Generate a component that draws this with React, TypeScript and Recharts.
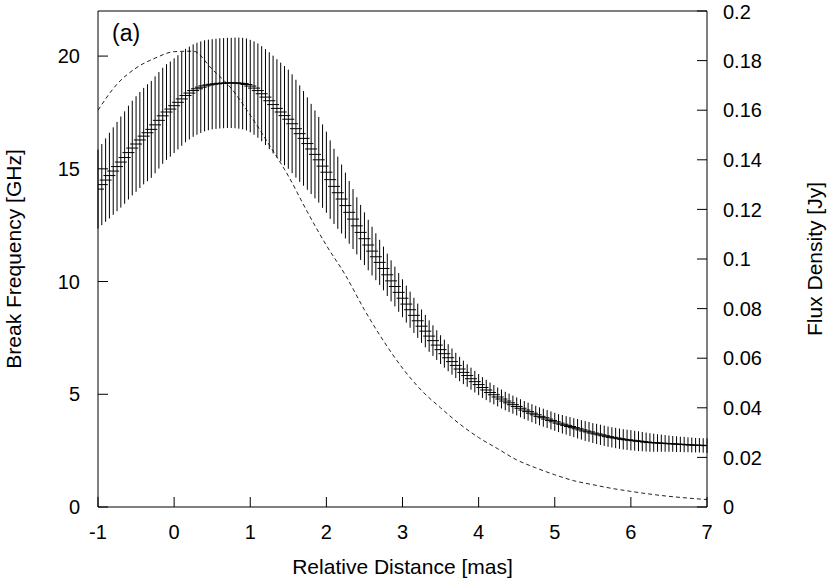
import { ComposedChart, ErrorBar, Line, Scatter, XAxis, YAxis } from "recharts";

const FONT = "'Liberation Sans', Arial, sans-serif";

// break frequency [GHz], sampled every 0.05 mas from -1 to 7
const breakFreq = [
  14.1, 14.3, 14.5, 14.7, 14.9, 15.1, 15.3, 15.5, 15.72, 15.92,
  16.1, 16.28, 16.45, 16.6, 16.75, 16.95, 17.15, 17.35, 17.52, 17.65,
  17.8, 17.95, 18.1, 18.25, 18.36, 18.47, 18.55, 18.62, 18.68, 18.72,
  18.75, 18.77, 18.79, 18.8, 18.81, 18.81, 18.81, 18.8, 18.78, 18.74,
  18.67, 18.58, 18.47, 18.33, 18.18, 18.02, 17.85, 17.68, 17.52, 17.36,
  17.2, 17.0, 16.78, 16.56, 16.35, 16.12, 15.88, 15.64, 15.4, 15.12,
  14.85, 14.52, 14.22, 13.94, 13.66, 13.37, 13.07, 12.77, 12.47, 12.18,
  11.9, 11.62, 11.35, 11.1, 10.85, 10.58, 10.3, 10.03, 9.78, 9.52,
  9.26, 9.0, 8.75, 8.5, 8.26, 8.02, 7.8, 7.58, 7.38, 7.18,
  6.98, 6.8, 6.62, 6.45, 6.28, 6.12, 5.97, 5.83, 5.69, 5.56,
  5.43, 5.3, 5.19, 5.08, 4.98, 4.88, 4.79, 4.7, 4.62, 4.54,
  4.46, 4.38, 4.3, 4.23, 4.16, 4.09, 4.02, 3.96, 3.9, 3.84,
  3.78, 3.72, 3.67, 3.62, 3.57, 3.52, 3.47, 3.42, 3.37, 3.33,
  3.28, 3.24, 3.2, 3.16, 3.12, 3.09, 3.06, 3.03, 3.0, 2.98,
  2.96, 2.94, 2.92, 2.9, 2.88, 2.86, 2.85, 2.84, 2.83, 2.82,
  2.81, 2.8, 2.79, 2.78, 2.77, 2.76, 2.75, 2.74, 2.74, 2.73,
  2.72,
];

// half-length of the error bars [GHz]
const breakErr = [
  1.75, 1.8, 1.85, 1.9, 1.94, 1.98, 2.02, 2.05, 2.08, 2.1,
  2.12, 2.13, 2.14, 2.15, 2.15, 2.15, 2.14, 2.13, 2.12, 2.11,
  2.1, 2.09, 2.08, 2.07, 2.06, 2.05, 2.04, 2.03, 2.02, 2.01,
  2.0, 2.0, 2.0, 2.0, 2.0, 2.0, 2.01, 2.02, 2.03, 2.04,
  2.05, 2.07, 2.09, 2.11, 2.13, 2.15, 2.17, 2.18, 2.19, 2.2,
  2.2, 2.19, 2.17, 2.14, 2.1, 2.05, 2.0, 1.95, 1.9, 1.85,
  1.8, 1.74, 1.67, 1.6, 1.53, 1.46, 1.39, 1.33, 1.27, 1.22,
  1.17, 1.12, 1.08, 1.04, 1.0, 0.97, 0.94, 0.91, 0.88, 0.86,
  0.84, 0.82, 0.8, 0.78, 0.76, 0.74, 0.72, 0.7, 0.68, 0.66,
  0.64, 0.62, 0.6, 0.58, 0.56, 0.54, 0.52, 0.5, 0.49, 0.48,
  0.47, 0.46, 0.45, 0.44, 0.43, 0.42, 0.42, 0.41, 0.41, 0.4,
  0.4, 0.4, 0.4, 0.4, 0.4, 0.4, 0.4, 0.4, 0.4, 0.4,
  0.4, 0.4, 0.41, 0.41, 0.42, 0.42, 0.43, 0.43, 0.44, 0.44,
  0.44, 0.45, 0.45, 0.45, 0.45, 0.45, 0.45, 0.45, 0.45, 0.45,
  0.45, 0.44, 0.44, 0.43, 0.42, 0.41, 0.4, 0.39, 0.38, 0.37,
  0.36, 0.35, 0.35, 0.34, 0.34, 0.33, 0.33, 0.32, 0.32, 0.32,
  0.32,
];

const fluxDistance = [
  -1, -0.75, -0.5, -0.25, 0, 0.25, 0.5, 0.75, 1, 1.25, 1.5, 1.75, 2, 2.25, 2.5, 2.75,
  3, 3.25, 3.5, 3.75, 4, 4.25, 4.5, 4.75, 5, 5.25, 5.5, 5.75, 6, 6.25, 6.5, 6.75, 7,
];
const fluxDensity = [
  0.16, 0.1705, 0.177, 0.181, 0.1836, 0.1838, 0.1765, 0.1688, 0.158, 0.146, 0.1335,
  0.119, 0.1055, 0.0935, 0.0795, 0.067, 0.056, 0.047, 0.04, 0.0335, 0.028, 0.0235,
  0.019, 0.0158, 0.013, 0.0106, 0.009, 0.0075, 0.0063, 0.0052, 0.0043, 0.0036, 0.003,
];

const distanceTicks = [-1, 0, 1, 2, 3, 4, 5, 6, 7];
const freqTicks = [0, 5, 10, 15, 20];
const fluxTicks = [0, 0.02, 0.04, 0.06, 0.08, 0.1, 0.12, 0.14, 0.16, 0.18, 0.2];

const breakData = breakFreq.map((f, i) => ({
  d: Math.round((-1 + i * 0.05) * 100) / 100,
  f,
  err: breakErr[i],
}));
const fluxData = fluxDistance.map((d, i) => ({ d, flux: fluxDensity[i] }));

const tickStyle = { fontFamily: FONT, fontSize: 20, fill: "#000" };
const titleStyle = { fontFamily: FONT, fontSize: 21, fill: "#000", textAnchor: "middle" as const };

// horizontal dash at each point, like gnuplot's "+" with error bars
const Dash = (props: any) => {
  const { cx, cy } = props;
  if (cx == null || cy == null) return null;
  return <line x1={cx - 6} x2={cx + 6} y1={cy} y2={cy} stroke="#000" strokeWidth={1} />;
};

export default function App() {
  return (
    <div style={{ position: "absolute", left: 0, top: 0, width: 830, height: 579, background: "#fff" }}>
      <ComposedChart width={830} height={579} margin={{ top: 10, right: 0, bottom: 0, left: 0 }}>
        <XAxis
          xAxisId="bottom"
          dataKey="d"
          type="number"
          domain={[-1, 7]}
          ticks={distanceTicks}
          allowDataOverflow
          height={72}
          stroke="#000"
          tickSize={-10}
          tickMargin={28}
          tick={tickStyle}
          label={{ value: "Relative Distance [mas]", position: "insideBottom", offset: 5, style: titleStyle }}
        />
        <XAxis
          xAxisId="top"
          orientation="top"
          type="number"
          domain={[-1, 7]}
          ticks={distanceTicks}
          allowDataOverflow
          height={1}
          stroke="#000"
          tickSize={-10}
          tick={false}
        />
        <YAxis
          yAxisId="left"
          type="number"
          domain={[0, 22]}
          ticks={freqTicks}
          allowDataOverflow
          width={98}
          stroke="#000"
          tickSize={-10}
          tickMargin={28}
          tick={tickStyle}
          label={{ value: "Break Frequency [GHz]", angle: -90, position: "insideLeft", offset: 14, style: titleStyle }}
        />
        <YAxis
          yAxisId="right"
          orientation="right"
          type="number"
          domain={[0, 0.2]}
          ticks={fluxTicks}
          allowDataOverflow
          width={123}
          stroke="#000"
          tickSize={-10}
          tickMargin={26}
          tick={tickStyle}
          label={{ value: "Flux Density [Jy]", angle: -90, position: "insideRight", offset: 15, style: titleStyle }}
        />
        <Line
          xAxisId="bottom"
          yAxisId="right"
          data={fluxData}
          dataKey="flux"
          type="monotone"
          stroke="#222"
          strokeWidth={1}
          strokeDasharray="4 3"
          dot={false}
          activeDot={false}
          isAnimationActive={false}
        />
        <Scatter
          xAxisId="bottom"
          yAxisId="left"
          data={breakData}
          dataKey="f"
          shape={<Dash />}
          isAnimationActive={false}
        >
          <ErrorBar dataKey="err" direction="y" width={0} stroke="#000" strokeWidth={1} isAnimationActive={false} />
        </Scatter>
      </ComposedChart>
      <div
        style={{
          position: "absolute",
          left: 112,
          top: 22,
          fontFamily: FONT,
          fontSize: 23,
          lineHeight: 1,
          color: "#000",
        }}
      >
        (a)
      </div>
    </div>
  );
}
